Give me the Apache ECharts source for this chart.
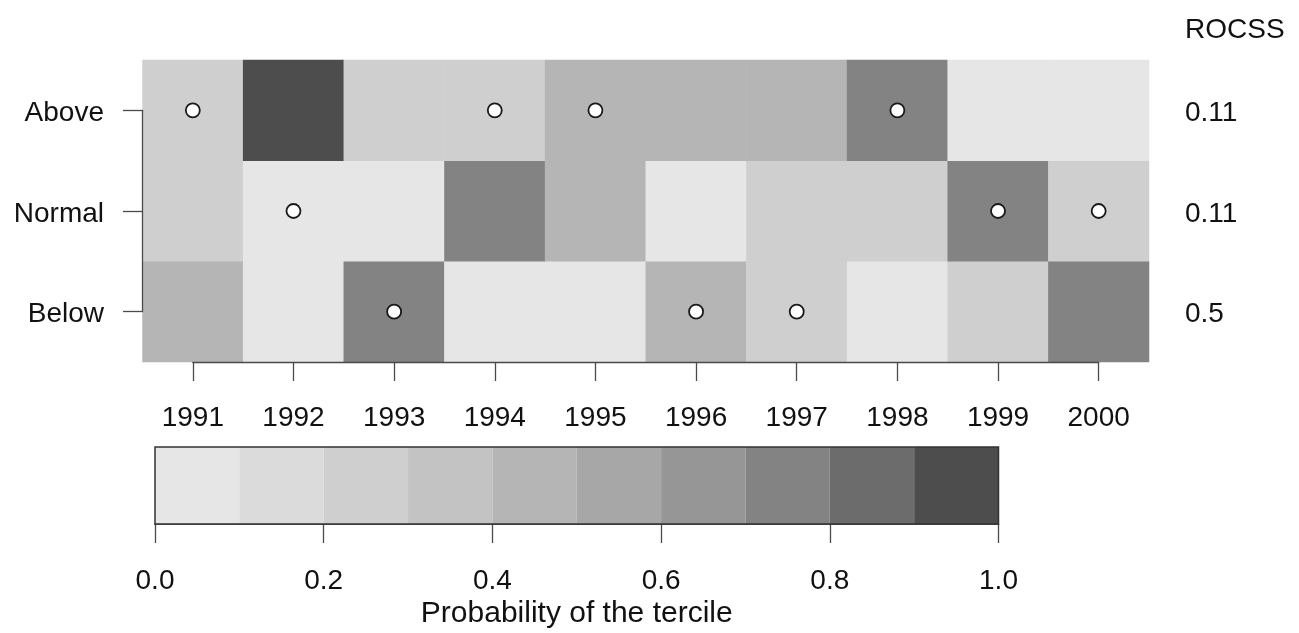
<!DOCTYPE html>
<html>
<head>
<meta charset="utf-8">
<script src="https://cdn.jsdelivr.net/npm/echarts@6/dist/echarts.min.js"></script>
<style>
html,body{margin:0;padding:0;background:#fff;}
#chart{width:1299px;height:633px;}
</style>
</head>
<body>
<div id="chart"></div>
<script>
// ---- data ----
const years = ['1991','1992','1993','1994','1995','1996','1997','1998','1999','2000'];
const terciles = ['Below','Normal','Above'];
const probBelow  = [0.5, 0,    0.75, 0,    0,   0.5, 0.25, 0,    0.25, 0.75];
const probNormal = [0.25,0,    0,    0.75, 0.5, 0,   0.25, 0.25, 0.75, 0.25];
const probAbove  = [0.25,1,    0.25, 0.25, 0.5, 0.5, 0.5,  0.75, 0,    0];
const observed = ['Above','Normal','Below','Above','Above','Below','Below','Above','Normal','Normal'];
const rocss = ['0.5','0.11','0.11']; // Below, Normal, Above
const breaks = [0,0.1,0.2,0.3,0.4,0.5,0.6,0.7,0.8,0.9,1.0];
const greys = ['#E6E6E6','#DBDBDB','#CFCFCF','#C3C3C3','#B5B5B5','#A7A7A7','#969696','#838383','#6C6C6C','#4D4D4D'];
const colorbarTitle = 'Probability of the tercile';

// ---- build ----
const FONT = 'Liberation Sans, Arial, sans-serif';
const FS = 28;
const probRows = [probBelow, probNormal, probAbove];
const heatData = [];
probRows.forEach((row, r) => row.forEach((v, c) => heatData.push([c, r, v])));
const obsData = observed.map((t, c) => [c, terciles.indexOf(t)]);
const pieces = greys.map((col, i) => (i === 0 ? {gte: breaks[i], lte: breaks[i+1], color: col} : {gt: breaks[i], lte: breaks[i+1], color: col}));
const cbData = greys.map((col, i) => [breaks[i], breaks[i+1], i]);

// geometry
const G = {left: 142.5, top: 60, width: 1006.5, height: 302};
const cw = G.width / years.length, rh = G.height / terciles.length;
const axisGrid = {left: G.left + cw/2, top: G.top + rh/2, width: cw*(years.length-1), height: rh*(terciles.length-1)};

const axisLineStyle = {color: '#4a4a4a', width: 1.3};
const lblRich = {t: {fontSize: FS, color: '#111', fontFamily: FONT, padding: [6, 0, 0, 0]}};
const chart = echarts.init(document.getElementById('chart'));
chart.setOption({
  animation: false,
  backgroundColor: '#fff',
  textStyle: {fontFamily: FONT},
  title: {text: 'ROCSS', left: 1180, top: 11, textStyle: {fontFamily: FONT, fontSize: FS, fontWeight: 'normal', color: '#111'}},
  grid: [
    {left: G.left, top: G.top, width: G.width, height: G.height},
    {left: axisGrid.left, top: axisGrid.top, width: axisGrid.width, height: axisGrid.height},
    {left: 155, top: 447, width: 843.5, height: 77}
  ],
  xAxis: [
    {gridIndex: 0, type: 'category', data: years, show: false},
    {gridIndex: 1, type: 'category', data: years, boundaryGap: false, z: 10,
     offset: G.top + G.height - (axisGrid.top + axisGrid.height),
     axisLine: {show: true, lineStyle: axisLineStyle},
     axisTick: {show: true, length: 19, interval: 0, lineStyle: axisLineStyle},
     axisLabel: {interval: 0, margin: 42, fontSize: FS, color: '#111', fontFamily: FONT}, splitLine: {show: false}},
    {gridIndex: 2, type: 'value', min: 0, max: 1, interval: 0.2,
     axisLine: {show: true, lineStyle: {color: '#222', width: 1.5}},
     axisTick: {show: true, length: 19, lineStyle: axisLineStyle},
     axisLabel: {margin: 43, fontSize: FS, color: '#111', fontFamily: FONT, formatter: v => v.toFixed(1)},
     splitLine: {show: false},
     name: colorbarTitle, nameLocation: 'middle', nameGap: 75, nameTextStyle: {fontSize: 30, color: '#111', fontFamily: FONT}}
  ],
  yAxis: [
    {gridIndex: 0, type: 'category', data: terciles, position: 'right',
     axisLine: {show: false}, axisTick: {show: false}, splitLine: {show: false},
     axisLabel: {margin: 36, rich: lblRich, formatter: (v, i) => '{t|' + rocss[i] + '}'}},
    {gridIndex: 1, type: 'category', data: terciles, boundaryGap: false, z: 10,
     offset: axisGrid.left - G.left + 0.5,
     axisLine: {show: true, lineStyle: axisLineStyle},
     axisTick: {show: true, length: 19, interval: 0, lineStyle: axisLineStyle},
     axisLabel: {interval: 0, margin: 38, rich: lblRich, formatter: v => '{t|' + v + '}'}, splitLine: {show: false}},
    {gridIndex: 2, type: 'value', min: 0, max: 1, show: false}
  ],
  visualMap: {type: 'piecewise', show: false, seriesIndex: 0, pieces: pieces, dimension: 2},
  series: [
    {type: 'heatmap', xAxisIndex: 0, yAxisIndex: 0, data: heatData, itemStyle: {borderWidth: 0}, emphasis: {disabled: true}},
    {type: 'scatter', xAxisIndex: 0, yAxisIndex: 0, data: obsData, symbol: 'circle', symbolSize: 14,
     itemStyle: {color: '#ffffff', opacity: 1, borderColor: '#1a1a1a', borderWidth: 1.8}, z: 5},
    {type: 'custom', xAxisIndex: 2, yAxisIndex: 2, data: cbData,
     renderItem: (params, api) => {
       const p0 = api.coord([api.value(0), 1]);
       const p1 = api.coord([api.value(1), 0]);
       return {type: 'rect', shape: {x: p0[0], y: p0[1], width: p1[0]-p0[0], height: p1[1]-p0[1]},
               style: {fill: greys[api.value(2)], stroke: null}};
     }, z: 2},
    {type: 'custom', xAxisIndex: 2, yAxisIndex: 2, data: [[breaks[0], breaks[breaks.length-1]]],
     renderItem: (params, api) => {
       const p0 = api.coord([api.value(0), 1]);
       const p1 = api.coord([api.value(1), 0]);
       return {type: 'rect', shape: {x: p0[0], y: p0[1], width: p1[0]-p0[0], height: p1[1]-p0[1]},
               style: {fill: 'none', stroke: '#333', lineWidth: 1.5}};
     }, z: 3}
  ]
});
</script>
</body>
</html>
